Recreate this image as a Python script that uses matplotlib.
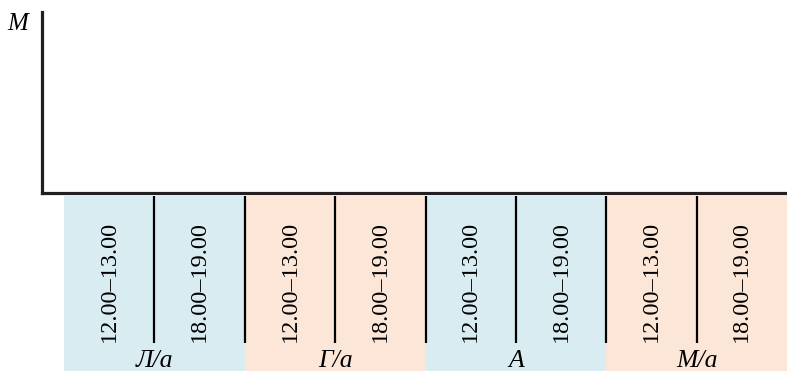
import matplotlib
matplotlib.use("Agg")
import matplotlib.pyplot as plt

plt.rcParams['font.family'] = ['Liberation Serif', 'DejaVu Serif']

groups = ['Л/а', 'Г/а', 'А', 'М/а']
slots = ['12.00–13.00', '18.00–19.00']
group_colors = ['#d9ecf2', '#fce6d8', '#d9ecf2', '#fce6d8']
y_label = 'М'

W, H = 787, 371
fig = plt.figure(figsize=(W / 100, H / 100), dpi=100)

def px_axes(x0, y0, x1, y1):
    return fig.add_axes([x0 / W, 1 - y1 / H, (x1 - x0) / W, (y1 - y0) / H])

# main (empty) chart axes
ax = px_axes(42, 12, 787, 193)
ax.set_xlim(0, 1)
ax.set_ylim(0, 1)
for s in ['top', 'right']:
    ax.spines[s].set_visible(False)
for s in ['left', 'bottom']:
    ax.spines[s].set_linewidth(2.3)
    ax.spines[s].set_color('#231f20')
ax.set_xticks([])
ax.set_yticks([])
ax.set_ylabel(y_label, rotation=0, fontstyle='italic', fontsize=18,
              ha='center', va='center')
ax.yaxis.set_label_coords(-0.032, 0.935)

# category band below
bx = px_axes(64, 196, 787, 371)
n_slots = len(groups) * len(slots)
bx.set_xlim(0, n_slots)
bx.set_ylim(0, 175)
bx.axis('off')

for gi, (g, c) in enumerate(zip(groups, group_colors)):
    start = gi * len(slots)
    bx.bar(start, 175, width=len(slots), align='edge', color=c, linewidth=0)
    bx.text(start + len(slots) / 2, 10, g, ha='center', va='center',
            fontstyle='italic', fontsize=18.5)
    for si, s in enumerate(slots):
        bx.text(start + si + 0.5, 89.5, s, rotation=90, ha='center',
                va='center', fontsize=17.5)

for k in range(1, n_slots):
    bx.vlines(k, 28, 175, color='black', linewidth=1.6)

fig.savefig('out.png', dpi=100)
